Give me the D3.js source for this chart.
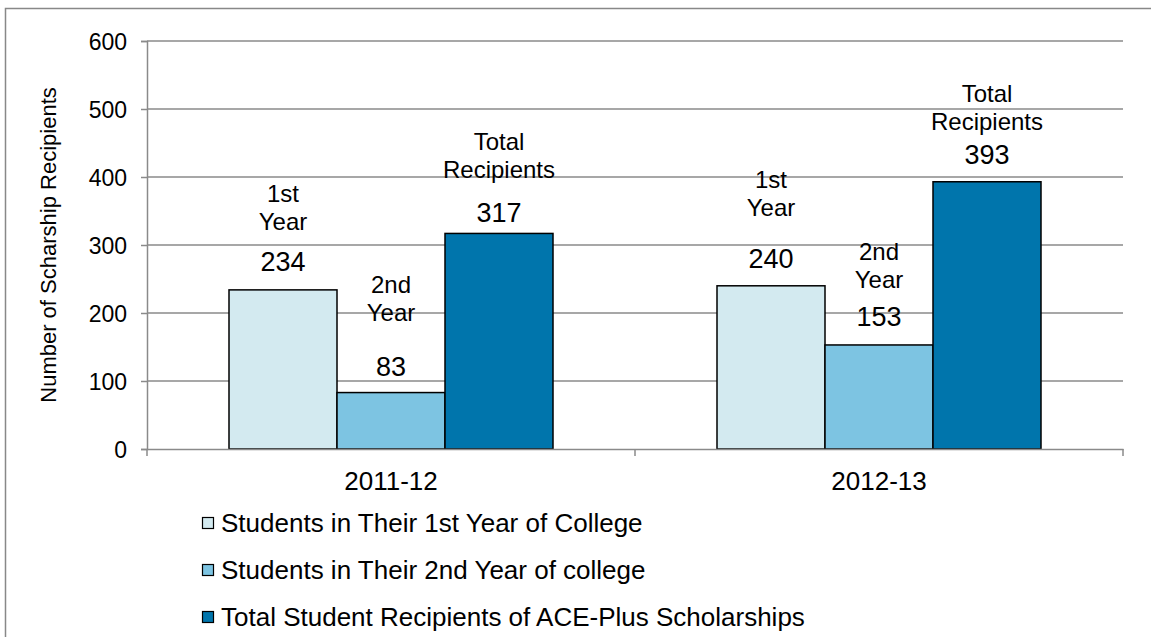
<!DOCTYPE html>
<html><head><meta charset="utf-8">
<script src="https://cdn.jsdelivr.net/npm/d3@7"></script>
<style>body{margin:0;background:#fff}text{font-family:"Liberation Sans",Arial,sans-serif;fill:#000}</style>
</head><body><svg id="c" width="1151" height="637"></svg>
<script>
// ---- data ----
const categories = ["2011-12", "2012-13"];
const seriesNames = ["Students in Their 1st Year of College", "Students in Their 2nd Year of college", "Total Student Recipients of ACE-Plus Scholarships"];
const seriesShort = [["1st", "Year"], ["2nd", "Year"], ["Total", "Recipients"]];
const firstYear = [234, 240];
const secondYear = [83, 153];
const totalRecipients = [317, 393];
const yTicks = [0, 100, 200, 300, 400, 500, 600];
const yTitle = "Number of Scharship Recipients";

// ---- layout / style ----
const colors = ["#D3EAF0", "#7DC4E2", "#0075AC"];
const M = {left: 147, right: 1123, top: 41, bottom: 449};
// manual label placements (number above bar, gap from number to name) per category/series
const numGap = [[28, 26, 21], [27, 28, 27]];
const nameGap = [[40, 54, 43], [51, 37, 33]];

const svg = d3.select("#c");
svg.append("rect").attr("x", 5.5).attr("y", 8.5).attr("width", 1300).attr("height", 800)
  .attr("fill", "#fff").attr("stroke", "#888").attr("stroke-width", 1.5);

const y = d3.scaleLinear().domain([0, 600]).range([M.bottom, M.top]);
const x0 = d3.scaleBand().domain(categories).range([M.left, M.right]).paddingInner(0).paddingOuter(0);
const innerPad = 82;
const x1 = d3.scaleBand().domain(d3.range(3)).range([innerPad, x0.bandwidth() - innerPad]).padding(0);

// gridlines
svg.append("g").selectAll("line").data(yTicks.filter(d => d > 0)).join("line")
  .attr("x1", M.left).attr("x2", M.right).attr("y1", d => y(d)).attr("y2", d => y(d))
  .attr("stroke", "#8a8a8a").attr("stroke-width", 1.5);

// y axis
const yAxis = d3.axisLeft(y).tickValues(yTicks).tickSize(6).tickPadding(14);
const gy = svg.append("g").attr("transform", `translate(${M.left},0)`).call(yAxis);
gy.select(".domain").attr("stroke", "#8a8a8a").attr("stroke-width", 1.5);
gy.selectAll(".tick line").attr("stroke", "#8a8a8a").attr("stroke-width", 1.5);
gy.selectAll(".tick text").attr("font-size", 23).attr("fill", "#000").attr("dy", "0.35em");

const seriesData = [firstYear, secondYear, totalRecipients];

// bars
categories.forEach((cat, ci) => {
  const g = svg.append("g").attr("transform", `translate(${x0(cat)},0)`);
  g.selectAll("rect").data(seriesData.map((s, si) => ({si, v: s[ci]}))).join("rect")
    .attr("x", d => x1(d.si)).attr("width", x1.bandwidth())
    .attr("y", d => y(d.v)).attr("height", d => y(0) - y(d.v))
    .attr("fill", d => colors[d.si]).attr("stroke", "#000").attr("stroke-width", 1.5);
  // labels
  seriesData.forEach((s, si) => {
    const cx = x1(si) + x1.bandwidth() / 2;
    const ny = y(s[ci]) - numGap[ci][si];
    g.append("text").attr("x", cx).attr("y", ny).attr("dy", "0.35em").attr("text-anchor", "middle")
      .attr("font-size", 27).text(s[ci]);
    const lines = seriesShort[si];
    lines.forEach((ln, li) => {
      const ly = ny - nameGap[ci][si] - (lines.length - 1 - li) * 28;
      g.append("text").attr("x", cx).attr("y", ly).attr("dy", "0.35em").attr("text-anchor", "middle")
        .attr("font-size", 24).text(ln);
    });
  });
});

// x axis
const xAxis = d3.axisBottom(x0).tickSize(0).tickPadding(23);
const gx = svg.append("g").attr("transform", `translate(0,${M.bottom})`).call(xAxis);
gx.select(".domain").attr("stroke", "#8a8a8a").attr("stroke-width", 1.5);
gx.selectAll(".tick text").attr("font-size", 26).attr("fill", "#000");
// category boundary ticks
const bounds = [M.left, ...categories.map(c => x0(c) + x0.bandwidth())];
gx.selectAll(".bt").data(bounds).join("line").attr("class", "bt")
  .attr("x1", d => d).attr("x2", d => d).attr("y1", 0).attr("y2", 7)
  .attr("stroke", "#8a8a8a").attr("stroke-width", 1.5);

// y title
svg.append("text").attr("transform", `translate(48,${(M.top + M.bottom) / 2}) rotate(-90)`)
  .attr("text-anchor", "middle").attr("dy", "0.35em").attr("font-size", 22).text(yTitle);

// legend
const lg = svg.append("g").attr("transform", "translate(202,523)");
seriesNames.forEach((n, i) => {
  const r = lg.append("g").attr("transform", `translate(0,${i * 47})`);
  r.append("rect").attr("x", 0.5).attr("y", -5.5).attr("width", 11).attr("height", 11)
    .attr("fill", colors[i]).attr("stroke", "#000").attr("stroke-width", 1.2);
  r.append("text").attr("x", 19).attr("y", 0).attr("dy", "0.35em").attr("font-size", 26).text(n);
});
</script></body></html>
